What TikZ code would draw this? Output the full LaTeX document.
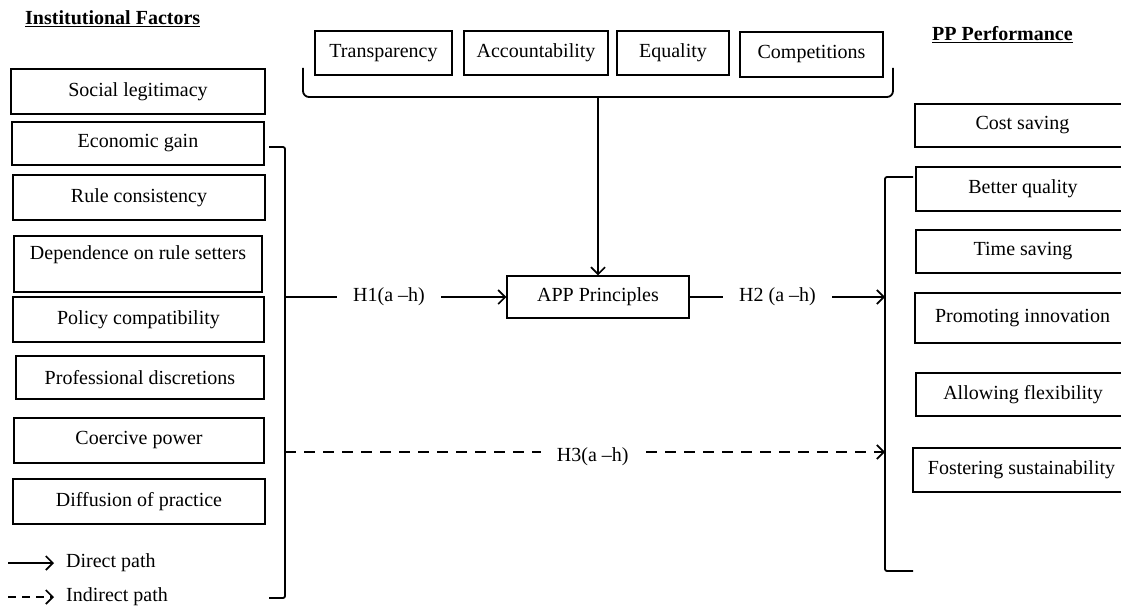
\documentclass[tikz,border=0pt]{standalone}
\usepackage{fontspec}
\setmainfont{Liberation Serif}
\usetikzlibrary{arrows.meta}
\begin{document}
\begin{tikzpicture}[x=1pt,y=-1pt,
  every node/.style={font=\fontsize{20}{24}\selectfont},
  box/.style={draw, line width=1.2pt, inner sep=0pt},
  arr/.style={line width=1.7pt, -{Straight Barb[length=7pt,width=14pt,line width=1.7pt]}},
  dasharr/.style={arr, dash pattern=on 11pt off 8pt},
  brk/.style={line width=1.8pt},
  lbl/.style={fill=white, inner xsep=16pt, inner ysep=2pt}
]
\useasboundingbox (0,0) rectangle (1121,610);
\clip (0,0) rectangle (1121,610);

% titles
\node[anchor=base west, inner sep=0pt] (t1) at (25,25) {\textbf{\underline{Institutional Factors}}};
\node[anchor=base west, inner sep=0pt] (t2) at (932,41) {\textbf{\underline{PP Performance}}};

% left boxes
\node[box, minimum width=254pt, minimum height=45pt] (soc) at (138,91.5) {Social legitimacy};
\node[box, minimum width=252pt, minimum height=43pt] (eco) at (138,143.5) {Economic gain};
\node[box, minimum width=252pt, minimum height=45pt] (rule) at (139,197.5) {Rule consistency};
\node[box, minimum width=248pt, minimum height=56pt] (dep) at (138,264) {};
\node[inner sep=0pt] (deptext) at (138,255) {Dependence on rule setters};
\node[box, minimum width=251pt, minimum height=45pt] (pol) at (138.5,319.5) {Policy compatibility};
\node[box, minimum width=248pt, minimum height=43pt] (prof) at (140,377.5) {Professional discretions};
\node[box, minimum width=250pt, minimum height=45pt] (coer) at (139,440.5) {Coercive power};
\node[box, minimum width=252pt, minimum height=45pt] (diff) at (139,501.5) {Diffusion of practice};

% top boxes
\node[box, minimum width=137pt, minimum height=44pt] (trans) at (383.5,53) {Transparency};
\node[box, minimum width=144pt, minimum height=44pt] (acc) at (536,53) {Accountability};
\node[box, minimum width=112pt, minimum height=44pt] (eq) at (673,53) {Equality};
\node[box, minimum width=143pt, minimum height=45pt] (comp) at (811.5,54.5) {Competitions};

% centre
\node[box, minimum width=182pt, minimum height=42pt] (app) at (598,297) {APP Principles};

% right boxes (cut at the right edge)
\node[box, minimum width=215pt, minimum height=43pt] (cost) at (1022.5,125.5) {Cost saving};
\node[box, minimum width=214pt, minimum height=44pt] (better) at (1023,189) {Better quality};
\node[box, minimum width=214pt, minimum height=43pt] (time) at (1023,251.5) {Time saving};
\node[box, minimum width=215pt, minimum height=50pt] (promo) at (1022.5,318) {Promoting innovation};
\node[box, minimum width=214pt, minimum height=43pt] (allow) at (1023,394.5) {Allowing flexibility};
\node[box, minimum width=217pt, minimum height=44pt] (foster) at (1021.5,470) {Fostering sustainability};

% brackets
\draw[brk, rounded corners=2pt] (269,147) -- (285,147) -- (285,598) -- (269,598);
\draw[brk, rounded corners=2pt] (913,177) -- (885,177) -- (885,571) -- (913,571);
\draw[brk, rounded corners=6pt] (303,68) -- (303,97) -- (893,97) -- (893,68);

\coordinate (lb) at (285,297);
\coordinate (rb) at (885,297);
\coordinate (lb3) at (285,452);
\coordinate (rb3) at (885,452);
\coordinate (bm) at (598,97);

% connectors
\draw[arr] (bm) -- (app.north);
\draw[arr] (lb) -- node[lbl, pos=0.47] (h1) {H1(a –h)} (app.west);
\draw[arr] (app.east) -- node[lbl, pos=0.45] (h2) {H2 (a –h)} (rb);
\draw[dasharr] (lb3) -- node[lbl, pos=0.513, yshift=-5pt] (h3) {H3(a –h)} (rb3);

% legend
\node[anchor=west, inner sep=0pt] (ldir) at (66,563) {Direct path};
\node[anchor=west, inner sep=0pt] (lind) at (66,597) {Indirect path};
\coordinate (ld1) at (8,563);
\coordinate (li1) at (8,597);
\draw[arr] (ld1) -- ([xshift=-12pt]ldir.west);
\draw[arr, dash pattern=on 8pt off 6pt] (li1) -- ([xshift=-12pt]lind.west);
\end{tikzpicture}
\end{document}
